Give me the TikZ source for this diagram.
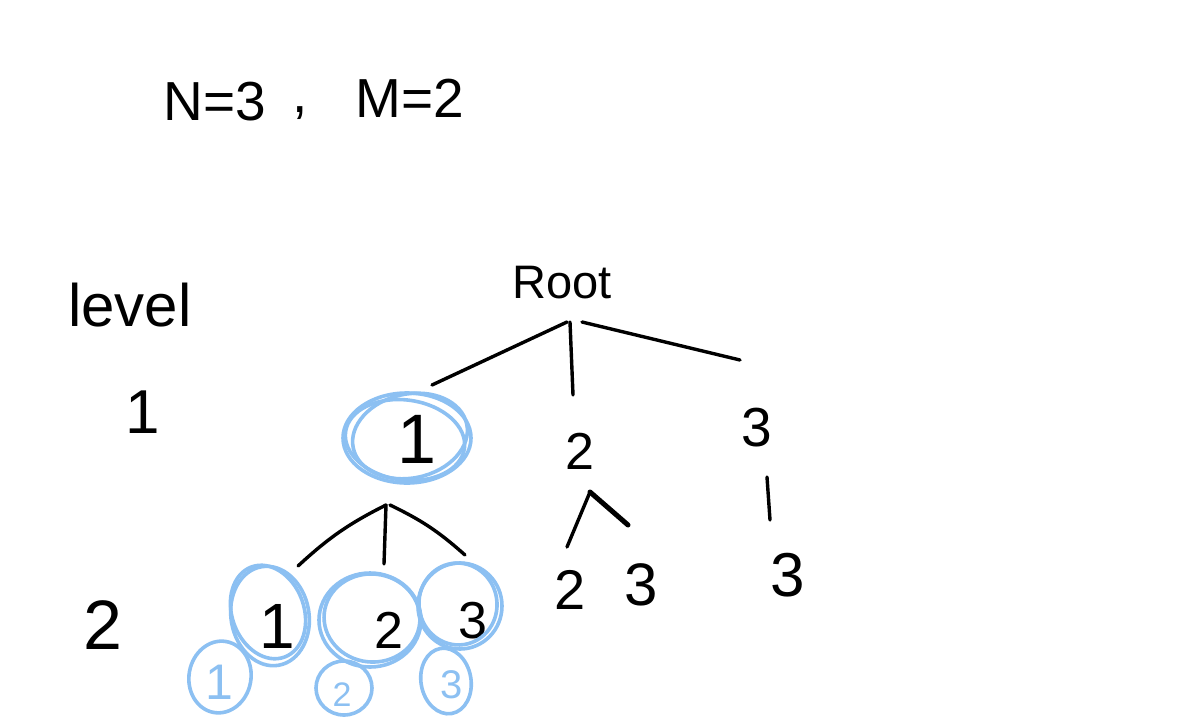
\documentclass[tikz,border=0pt]{standalone}
\usepackage{fontspec}
\setmainfont{Liberation Sans}
\definecolor{hlblue}{RGB}{140,192,242}
\tikzset{
  txt/.style={inner sep=0pt, text=black},
  edge/.style={draw=black, line width=3.4pt, line cap=round, line join=round},
  blu/.style={draw=hlblue, line width=3.6pt, line cap=round},
  blut/.style={inner sep=0pt, text=hlblue},
}
\newcommand{\fs}[1]{\fontsize{#1}{#1}\selectfont}
\begin{document}
\begin{tikzpicture}[x=1pt,y=-1pt]
\useasboundingbox (0,0) rectangle (1200,726);
\fill[white] (0,0) rectangle (1200,726);

% header
\node[txt,font=\fs{55}] (nn) at (215,102) {N=3};
\node[txt,font=\fs{55}] (cm) at (300,113) {,};
\node[txt,font=\fs{55}] (mm) at (410,98) {M=2};

% level labels
\node[txt,font=\fs{60}] (lev) at (130,305) {level};
\node[txt,font=\fs{62}] (l1) at (143,412) {1};
\node[txt,font=\fs{70}] (l2) at (103,625) {2};

% tree
\node[txt,font=\fs{47}] (root) at (562,283) {Root};
\node[txt,font=\fs{70}] (n1) at (417,439) {1};
\node[txt,font=\fs{52}] (n2) at (580,451) {2};
\node[txt,font=\fs{55}] (n3) at (757,428) {3};

\node[txt,font=\fs{64}] (a1) at (277,626) {1};
\node[txt,font=\fs{52}] (a2) at (389,630) {2};
\node[txt,font=\fs{52}] (a3) at (473,621) {3};

\node[txt,font=\fs{56}] (b2) at (570,590) {2};
\node[txt,font=\fs{60}] (b3) at (641,585) {3};
\node[txt,font=\fs{62}] (c3) at (788,575) {3};

\node[blut,font=\fs{50}] (s1) at (219,682) {1};
\node[blut,font=\fs{34}] (s2) at (342,695) {2};
\node[blut,font=\fs{40}] (s3) at (452,685) {3};

% connector end points
\coordinate (r1) at (567,322);
\coordinate (r2) at (570,322);
\coordinate (r3) at (582,322);
\coordinate (e1) at (432,385);
\coordinate (e2) at (573,395);
\coordinate (e3) at (740,360);
\coordinate (p1) at (386,505);
\coordinate (p2) at (390,505);
\coordinate (f1) at (298,566);
\coordinate (f2) at (384,564);
\coordinate (f3) at (465,555);
\coordinate (q0) at (567,547);
\coordinate (q1) at (590,492);
\coordinate (q2) at (628,525);
\coordinate (t0) at (767,477);
\coordinate (t1) at (770,520);

\draw[edge] (r1) -- (e1);
\draw[edge] (r2) -- (e2);
\draw[edge] (r3) -- (e3);
\draw[edge] (p1) to[bend right=8] (f1);
\draw[edge] (p1) -- (f2);
\draw[edge] (p2) to[bend left=8] (f3);
\draw[edge] (q0) -- (q1);
\draw[edge, line width=5pt] (q1) -- (q2);
\draw[edge] (t0) -- (t1);

% blue scribbles around node 1
\draw[blu] (407,438) ellipse (64pt and 45pt);
\draw[blu,rotate around={12:(410,436)}] (410,436) ellipse (58pt and 42pt);
\draw[blu,rotate around={-8:(405,440)}] (405,440) ellipse (60pt and 40pt);

% blue circles level 2
\draw[blu,rotate around={10:(270,616)}] (270,616) ellipse (39pt and 50pt);
\draw[blu,rotate around={20:(268,612)}] (268,612) ellipse (36pt and 48pt);
\draw[blu] (370,620) ellipse (51pt and 47pt);
\draw[blu,rotate around={-6:(372,618)}] (372,618) ellipse (48pt and 44pt);
\draw[blu] (460,606) ellipse (42pt and 43pt);
\draw[blu,rotate around={8:(458,604)}] (458,604) ellipse (39pt and 41pt);

% small blue circles
\draw[blu,rotate around={-10:(220,677)}] (220,677) ellipse (31pt and 36pt);
\draw[blu] (344,688) ellipse (28pt and 27pt);
\draw[blu,rotate around={10:(446,681)}] (446,681) ellipse (25pt and 33pt);
\end{tikzpicture}
\end{document}
